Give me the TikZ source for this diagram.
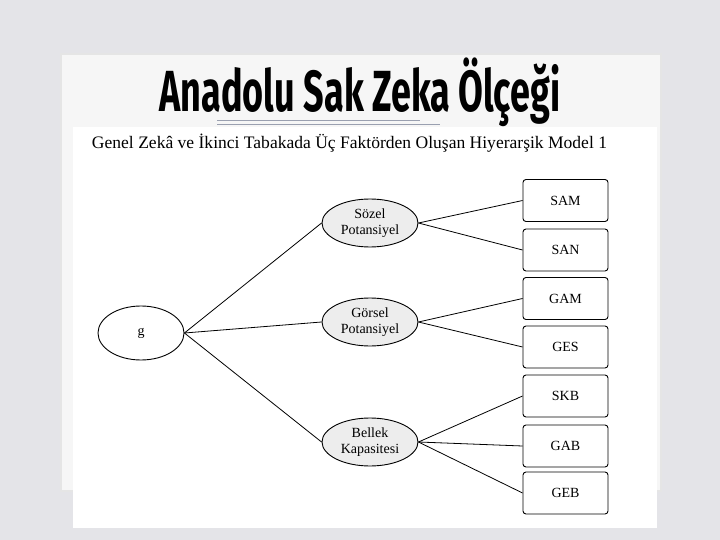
\documentclass[tikz,border=0pt]{standalone}
\usepackage{fontspec}
\setmainfont{Liberation Serif}
\newfontfamily\titlefont{Fira Sans}
\usetikzlibrary{shapes.geometric}
\definecolor{bgc}{HTML}{E4E4E8}
\definecolor{paperc}{HTML}{F6F6F6}
\definecolor{factc}{HTML}{EDEDED}
\definecolor{rulec}{HTML}{9AA0B0}
\tikzset{
  latent/.style={ellipse, draw=black, line width=0.9pt, inner sep=0pt, minimum width=96pt, minimum height=48pt, fill=factc, align=center, font=\fontsize{14}{16}\selectfont},
  obs/.style={rectangle, rounded corners=3pt, draw=black, line width=0.9pt, fill=white, minimum width=85pt, minimum height=42pt, inner sep=0pt, font=\fontsize{14}{16}\selectfont},
  conn/.style={draw=black, line width=0.8pt}
}
\begin{document}
\begin{tikzpicture}[x=1pt,y=-1pt]
\useasboundingbox (0,0) rectangle (720,540);
\fill[bgc] (0,0) rectangle (720,540);
\fill[black!10] (60,53) rectangle (662,492);
\fill[paperc] (62,55) rectangle (660,490);
\fill[white] (73,127) rectangle (657,528);
\node (title) at (360,92) {\scalebox{0.62}[1]{\titlefont\bfseries\fontsize{58}{60}\selectfont Anadolu Sak Zeka Ölçeği}};
\draw[rulec, line width=0.5pt] (217,120) -- (420,120);
\draw[rulec, line width=0.5pt] (217,124.5) -- (440,124.5);
\node (sub) at (349.5,143) {\resizebox{515pt}{!}{\fontsize{15}{17}\selectfont Genel Zekâ ve İkinci Tabakada Üç Faktörden Oluşan Hiyerarşik Model 1}};
\node[latent, fill=white, minimum width=86pt, minimum height=54pt] (g) at (141,333) {g};
\node[latent] (sp) at (370,223) {Sözel\\Potansiyel};
\node[latent] (gp) at (370,322) {Görsel\\Potansiyel};
\node[latent] (bk) at (370,442) {Bellek\\Kapasitesi};
\node[obs] (sam) at (565.5,200.5) {SAM};
\node[obs] (san) at (565.5,250) {SAN};
\node[obs] (gam) at (565.5,298.5) {GAM};
\node[obs] (ges) at (565.5,347) {GES};
\node[obs] (skb) at (565.5,396) {SKB};
\node[obs] (gab) at (565.5,446) {GAB};
\node[obs] (geb) at (565.5,493) {GEB};
\draw[conn] (g.east) -- (sp.west);
\draw[conn] (g.east) -- (gp.west);
\draw[conn] (g.east) -- (bk.west);
\draw[conn] (sp.east) -- (sam.west);
\draw[conn] (sp.east) -- (san.west);
\draw[conn] (gp.east) -- (gam.west);
\draw[conn] (gp.east) -- (ges.west);
\draw[conn] (bk.east) -- (skb.west);
\draw[conn] (bk.east) -- (gab.west);
\draw[conn] (bk.east) -- (geb.west);
\end{tikzpicture}
\end{document}
